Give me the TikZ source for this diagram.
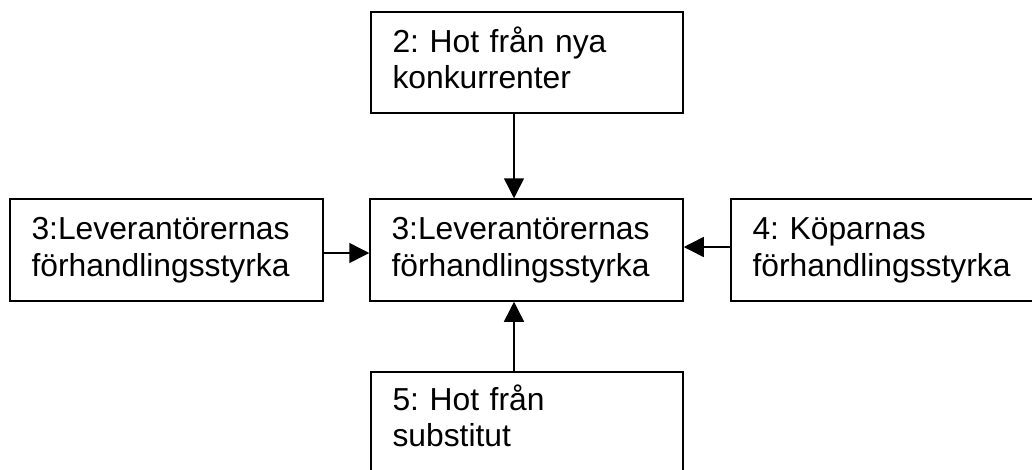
\documentclass[tikz,border=0pt]{standalone}
\usepackage{fontspec}
\setmainfont{Liberation Sans}
\usetikzlibrary{arrows.meta}
\frenchspacing
\tikzset{
  box/.style={draw=black, line width=1.5pt, rectangle, align=left,
    inner xsep=21.5pt, inner ysep=0pt, text height=23pt, text depth=43.5pt,
    font=\fontsize{31.8pt}{36.5pt}\selectfont\frenchspacing},
  arr/.style={-{Triangle[length=20pt,width=20pt]}, line width=1.5pt, draw=black}
}
\begin{document}
\begin{tikzpicture}[x=1pt,y=-1pt]
\useasboundingbox (0,0) rectangle (1032,469);
\node[box, minimum width=312pt, minimum height=101pt, text width=269pt] (top) at (527,62.5) {2: Hot från nya\\konkurrenter};
\node[box, minimum width=313pt, minimum height=102pt, text width=270pt] (left) at (166.5,250) {3:Leverantörernas\\förhandlingsstyrka};
\node[box, minimum width=313pt, minimum height=102pt, text width=270pt] (center) at (526.5,250) {3:Leverantörernas\\förhandlingsstyrka};
\node[box, minimum width=309pt, minimum height=102pt, text width=266pt] (right) at (885.5,250) {4: Köparnas\\förhandlingsstyrka};
\node[box, minimum width=312pt, minimum height=100pt, text width=269pt, text depth=47pt] (bottom) at (527,422) {5: Hot från\\substitut};
\draw[arr] ([xshift=-13pt]top.south) -- ([xshift=-12.5pt]center.north);
\draw[arr] ([yshift=-3pt]left.east) -- ([yshift=-3pt]center.west);
\draw[arr] ([yshift=3pt]right.west) -- ([yshift=3pt]center.east);
\draw[arr] ([xshift=-13pt]bottom.north) -- ([xshift=-12.5pt]center.south);
\end{tikzpicture}
\end{document}
